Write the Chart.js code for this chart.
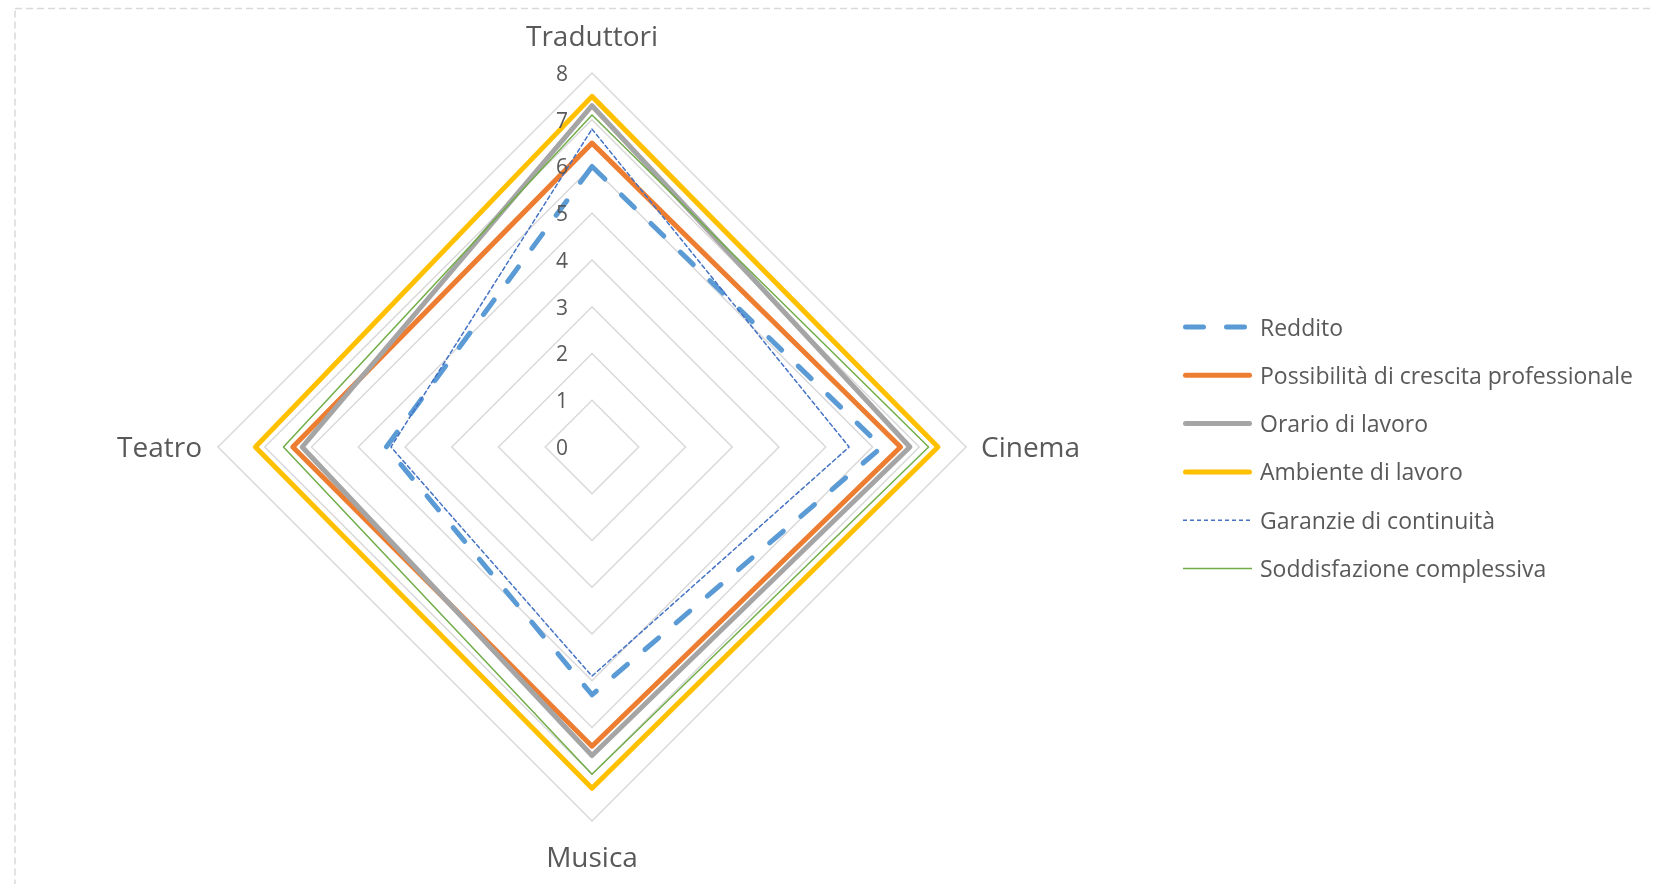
<!DOCTYPE html>
<html lang="it">
<head>
<meta charset="utf-8">
<title>Soddisfazione per settore</title>
<script src="https://cdn.jsdelivr.net/npm/chart.js@4.4.1/dist/chart.umd.min.js"></script>
<style>
    html, body { margin: 0; padding: 0; background: #ffffff; }
    #radarChart { display: block; }
</style>
</head>
<body>
<canvas id="radarChart" width="1653" height="884"></canvas>
<script>
// settori (assi del radar), in senso orario partendo dall'alto
const categorie = ['Traduttori', 'Cinema', 'Musica', 'Teatro'];

// punteggi medi per settore
const reddito = [6.0, 6.2, 5.3, 4.4];
const crescita = [6.5, 6.6, 6.4, 6.4];
const orario = [7.3, 6.8, 6.6, 6.2];
const ambiente = [7.5, 7.4, 7.3, 7.2];
const garanzie = [6.8, 5.5, 4.9, 4.3];
const soddisfazione = [7.1, 7.2, 7.0, 6.6];

const nomiSerie = [
    'Reddito',
    'Possibilità di crescita professionale',
    'Orario di lavoro',
    'Ambiente di lavoro',
    'Garanzie di continuità',
    'Soddisfazione complessiva'
];

const valoriScala = [0, 1, 2, 3, 4, 5, 6, 7, 8];

const FONT = '"Open Sans", Lato, sans-serif';
const GRIGIO_TESTO = '#595959';

function serie(label, data, colore, spessore, tratteggio, ordine) {
    return {
        label: label,
        data: data,
        borderColor: colore,
        backgroundColor: colore,
        borderWidth: spessore,
        borderDash: tratteggio,
        borderCapStyle: 'round',
        borderJoinStyle: 'round',
        fill: false,
        tension: 0,
        pointRadius: 0,
        pointHoverRadius: 0,
        order: ordine
    };
}

// le ultime serie vanno disegnate sopra le prime
const datasets = [
    serie(nomiSerie[0], reddito, '#5b9bd5', 5, [18, 23], 6),
    serie(nomiSerie[1], crescita, '#ed7d31', 5, [], 5),
    serie(nomiSerie[2], orario, '#a5a5a5', 5, [], 4),
    serie(nomiSerie[3], ambiente, '#ffc000', 5, [], 3),
    serie(nomiSerie[4], garanzie, '#4472c4', 1.5, [4, 3], 2),
    serie(nomiSerie[5], soddisfazione, '#70ad47', 1.5, [], 1)
];

// cornice tratteggiata, etichette degli assi, valori della scala e legenda
const decorazioni = {
    id: 'decorazioni',
    beforeDraw(chart) {
        const ctx = chart.ctx;
        ctx.save();
        ctx.strokeStyle = '#d9d9d9';
        ctx.lineWidth = 1.5;
        ctx.setLineDash([7, 4]);
        ctx.strokeRect(15, 8.5, 1700, 950);
        ctx.restore();
    },
    afterDraw(chart) {
        const ctx = chart.ctx;
        const r = chart.scales.r;
        ctx.save();
        ctx.fillStyle = GRIGIO_TESTO;

        // valori della scala, a sinistra dell'asse verticale
        ctx.font = '21px ' + FONT;
        ctx.textAlign = 'center';
        ctx.textBaseline = 'middle';
        valoriScala.forEach(v => {
            const p = r.getPointPositionForValue(0, v);
            ctx.fillText(String(v), r.xCenter - 30, p.y + 2);
        });

        // nomi dei settori
        ctx.font = '28px ' + FONT;
        const max = r.max;
        categorie.forEach((nome, i) => {
            const p = r.getPointPositionForValue(i, max);
            if (i === 0) {
                ctx.textAlign = 'center';
                ctx.fillText(nome, p.x, p.y - 35);
            } else if (i === 1) {
                ctx.textAlign = 'left';
                ctx.fillText(nome, p.x + 15, p.y + 2);
            } else if (i === 2) {
                ctx.textAlign = 'center';
                ctx.fillText(nome, p.x, p.y + 38);
            } else {
                ctx.textAlign = 'right';
                ctx.fillText(nome, p.x - 16, p.y + 2);
            }
        });

        // legenda
        const x0 = 1183, x1 = 1252, y0 = 327, passo = 48.3;
        ctx.font = '23px ' + FONT;
        ctx.textAlign = 'left';
        chart.data.datasets.forEach((ds, i) => {
            const y = y0 + i * passo;
            const spesso = ds.borderWidth > 2;
            ctx.save();
            ctx.strokeStyle = ds.borderColor;
            ctx.lineWidth = ds.borderWidth;
            ctx.lineCap = spesso ? 'round' : 'butt';
            ctx.setLineDash(ds.borderDash);
            ctx.beginPath();
            ctx.moveTo(x0 + (spesso ? 2.5 : 0), y);
            ctx.lineTo(x1 - (spesso ? 2.5 : 0), y);
            ctx.stroke();
            ctx.restore();
            ctx.fillText(ds.label, 1260, y + 2);
        });
        ctx.restore();
    }
};

new Chart(document.getElementById('radarChart'), {
    type: 'radar',
    data: {
        labels: categorie,
        datasets: datasets
    },
    options: {
        responsive: false,
        animation: false,
        events: [],
        layout: {
            padding: { left: 218, right: 687, top: 73, bottom: 63 }
        },
        plugins: {
            legend: { display: false },
            tooltip: { enabled: false }
        },
        scales: {
            r: {
                min: 0,
                max: 8,
                ticks: { display: false, stepSize: 1 },
                grid: { color: '#d9d9d9', lineWidth: 1.5 },
                angleLines: { display: false },
                pointLabels: { display: false }
            }
        }
    },
    plugins: [decorazioni]
});
</script>
</body>
</html>
